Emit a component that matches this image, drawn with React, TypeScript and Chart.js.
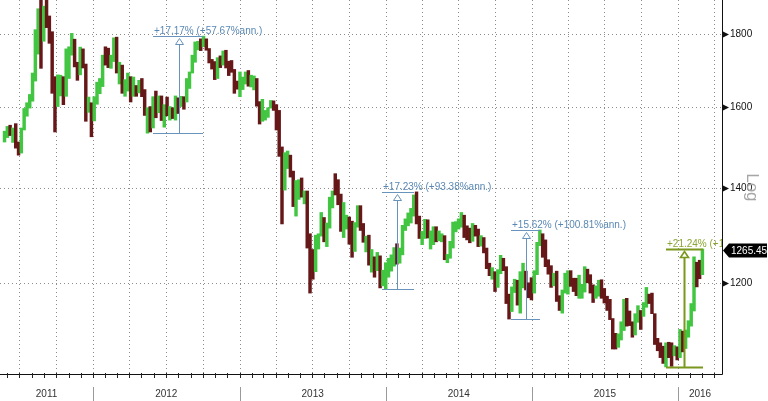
import React, { useEffect, useRef } from "react";
import { Chart, registerables } from "chart.js";

Chart.register(...registerables);

// ---- data (weekly bars, x = days since 2011-01-01, bar centred mid-week) ----
const firstBarDay = 144; // week ending 27 May 2011
const barStepDays = 7;

const highs = [
  // 2011
  1537, 1549, 1552, 1545, 1556, 1510, 1545, 1595, 1610, 1632, 1690, 1814, 1877, 1912, 1885, 1920,
  1855, 1808, 1680, 1685, 1684, 1680, 1758, 1764, 1803, 1786, 1720, 1763, 1758, 1715, 1625, 1610,
  // 2012
  1626, 1665, 1675, 1740, 1764, 1760, 1740, 1790, 1792, 1720, 1712, 1672, 1690, 1680, 1679, 1656,
  1670, 1675, 1645, 1597, 1600, 1626, 1641, 1628, 1628, 1605, 1625, 1600, 1597, 1628, 1623, 1627,
  1626, 1675, 1693, 1740, 1778, 1780, 1787, 1795, 1787, 1759, 1728, 1722, 1733, 1738, 1752, 1754,
  1723, 1725, 1700, 1668,
  // 2013
  1693, 1679, 1693, 1697, 1684, 1682, 1675, 1613, 1619, 1590, 1597, 1616, 1615, 1605, 1590, 1498,
  1484, 1488, 1478, 1440, 1418, 1420, 1424, 1394, 1394, 1300, 1267, 1297, 1300, 1346, 1335, 1323,
  1380, 1394, 1434, 1420, 1387, 1368, 1340, 1336, 1327, 1324, 1361, 1361, 1322, 1295, 1297, 1267,
  1252, 1261, 1254, 1225,
  // 2014
  1240, 1249, 1256, 1271, 1279, 1270, 1318, 1332, 1345, 1355, 1385, 1392, 1338, 1305, 1331, 1330,
  1306, 1315, 1315, 1306, 1300, 1296, 1257, 1284, 1325, 1326, 1332, 1346, 1340, 1317, 1312, 1322,
  1318, 1310, 1296, 1292, 1270, 1239, 1230, 1222, 1226, 1255, 1249, 1232, 1178, 1192, 1207, 1205,
  1222, 1239, 1223, 1200,
  // 2015
  1210, 1224, 1282, 1308, 1300, 1287, 1246, 1234, 1219, 1223, 1175, 1186, 1219, 1224, 1224, 1209,
  1209, 1215, 1197, 1232, 1227, 1216, 1196, 1194, 1205, 1206, 1189, 1174, 1168, 1132, 1105, 1104,
  1126, 1168, 1170, 1146, 1126, 1141, 1156, 1147, 1162, 1191, 1178, 1180, 1141, 1096, 1088, 1082,
  1088, 1089, 1088, 1083,
  // 2016
  1081, 1112, 1109, 1111, 1128, 1160, 1252, 1241, 1245, 1268,
];

const lows = [
  // 2011
  1510, 1521, 1526, 1509, 1495, 1478, 1483, 1540, 1575, 1596, 1614, 1668, 1743, 1703, 1780, 1820,
  1774, 1635, 1535, 1600, 1628, 1605, 1627, 1675, 1740, 1707, 1670, 1685, 1704, 1562, 1585, 1523,
  // 2012
  1563, 1606, 1634, 1653, 1712, 1705, 1703, 1722, 1690, 1660, 1635, 1627, 1641, 1612, 1627, 1627,
  1636, 1626, 1577, 1532, 1535, 1545, 1571, 1584, 1564, 1547, 1576, 1565, 1569, 1565, 1582, 1600,
  1593, 1612, 1648, 1690, 1720, 1755, 1753, 1764, 1754, 1718, 1701, 1672, 1675, 1705, 1712, 1704,
  1683, 1692, 1635, 1646,
  // 2013
  1626, 1645, 1660, 1654, 1652, 1644, 1601, 1555, 1562, 1565, 1572, 1596, 1590, 1540, 1475, 1321,
  1396, 1446, 1426, 1359, 1338, 1375, 1380, 1365, 1270, 1180, 1207, 1222, 1268, 1295, 1283, 1273,
  1312, 1356, 1385, 1363, 1305, 1292, 1310, 1278, 1251, 1263, 1314, 1307, 1282, 1262, 1235, 1221,
  1211, 1224, 1190, 1194,
  // 2014
  1187, 1211, 1223, 1233, 1237, 1239, 1256, 1307, 1317, 1323, 1338, 1321, 1290, 1277, 1290, 1291,
  1268, 1277, 1283, 1285, 1283, 1246, 1240, 1249, 1270, 1304, 1310, 1314, 1292, 1287, 1281, 1284,
  1295, 1273, 1274, 1260, 1228, 1214, 1207, 1183, 1191, 1218, 1224, 1160, 1131, 1145, 1181, 1157,
  1142, 1190, 1186, 1171,
  // 2015
  1167, 1180, 1216, 1275, 1251, 1232, 1217, 1191, 1194, 1164, 1147, 1142, 1180, 1178, 1193, 1183,
  1175, 1170, 1170, 1182, 1200, 1180, 1162, 1170, 1174, 1170, 1161, 1147, 1130, 1077, 1077, 1080,
  1093, 1110, 1118, 1119, 1098, 1102, 1125, 1112, 1136, 1153, 1160, 1141, 1085, 1074, 1062, 1052,
  1046, 1062, 1047, 1065,
  // 2016
  1058, 1062, 1072, 1078, 1098, 1118, 1146, 1192, 1208, 1216,
];

const closes = [
  // 2011
  1536, 1542, 1530, 1539, 1501, 1486, 1542, 1592, 1601, 1628, 1660, 1744, 1852, 1829, 1880, 1856,
  1813, 1657, 1624, 1635, 1682, 1643, 1745, 1754, 1787, 1724, 1684, 1746, 1713, 1598, 1606, 1564,
  // 2012
  1617, 1640, 1664, 1730, 1725, 1723, 1725, 1776, 1710, 1711, 1656, 1662, 1669, 1631, 1659, 1642,
  1663, 1643, 1580, 1593, 1572, 1622, 1593, 1627, 1571, 1598, 1579, 1590, 1581, 1621, 1608, 1622,
  1616, 1671, 1690, 1738, 1770, 1776, 1771, 1780, 1757, 1723, 1712, 1676, 1730, 1714, 1751, 1712,
  1704, 1696, 1657, 1656,
  // 2013
  1656, 1662, 1687, 1657, 1667, 1667, 1609, 1573, 1573, 1576, 1592, 1608, 1596, 1581, 1477, 1395,
  1462, 1470, 1435, 1365, 1387, 1392, 1383, 1388, 1297, 1234, 1223, 1278, 1295, 1322, 1309, 1313,
  1376, 1396, 1395, 1386, 1308, 1326, 1338, 1310, 1272, 1315, 1352, 1315, 1287, 1288, 1244, 1251,
  1232, 1235, 1203, 1213,
  // 2014
  1237, 1247, 1252, 1264, 1240, 1263, 1318, 1323, 1326, 1339, 1379, 1335, 1294, 1303, 1318, 1294,
  1301, 1301, 1290, 1293, 1293, 1250, 1253, 1274, 1316, 1316, 1320, 1337, 1310, 1307, 1294, 1311,
  1305, 1280, 1287, 1268, 1230, 1216, 1217, 1192, 1222, 1238, 1231, 1172, 1169, 1186, 1200, 1176,
  1192, 1222, 1196, 1195,
  // 2015
  1189, 1223, 1277, 1293, 1283, 1234, 1228, 1204, 1213, 1167, 1153, 1183, 1199, 1219, 1207, 1203,
  1178, 1179, 1189, 1225, 1205, 1190, 1172, 1180, 1201, 1173, 1168, 1157, 1133, 1098, 1094, 1094,
  1113, 1160, 1134, 1121, 1103, 1138, 1145, 1137, 1156, 1177, 1163, 1142, 1088, 1081, 1077, 1057,
  1085, 1075, 1066, 1076,
  // 2016
  1061, 1098, 1089, 1097, 1118, 1158, 1239, 1230, 1222, 1265,
];

const yTicks = [1200, 1400, 1600, 1800];
const yearLabels = ["2011", "2012", "2013", "2014", "2015", "2016"];
const lastPrice = 1265.45;

// annotations: start/end/arrow day, low and high price, text
const annStartDays = [515, 1087, 1408, 1796];
const annEndDays = [640, 1167, 1481, 1889];
const annArrowDays = [580, 1124, 1446, 1841];
const annLows = [1532, 1187, 1131, 1046];
const annHighs = [1795, 1392, 1308, 1268];
const annTexts = [
  "+17.17% (+57.67%ann.)",
  "+17.23% (+93.38%ann.)",
  "+15.62% (+100.81%ann.)",
  "+21.24% (+116.53%ann.)",
];

// ---- axis bounds ----
const X_MIN = 132.7;
const X_MAX = 1935.9;
const Y_MIN = 1034;
const Y_MAX = 1904;

const UP = "#42c642";
const DOWN = "#661818";
const GRID = "#8c8c8c";
const BLUE_LINE = "#6893bd";
const BLUE_TEXT = "#5a88b4";
const GREEN_LINE = "#7a981c";
const GREEN_TEXT = "#8ba632";
const FONT = "'Liberation Sans', Arial, sans-serif";

const dayOf = (year: number, month: number) =>
  (Date.UTC(year, month, 1) - Date.UTC(2011, 0, 1)) / 86400000;

const decorPlugin = {
  id: "decor",
  beforeDatasetsDraw(chart: any) {
    const { ctx, chartArea: a, scales } = chart;
    const x = scales.x;
    const y = scales.y;
    ctx.save();
    ctx.strokeStyle = GRID;
    ctx.lineWidth = 1;
    ctx.setLineDash([1, 3]);
    for (const v of yTicks) {
      const py = Math.round(y.getPixelForValue(v)) + 0.5;
      ctx.beginPath();
      ctx.moveTo(a.left, py);
      ctx.lineTo(a.right, py);
      ctx.stroke();
    }
    for (let yr = 2011; yr <= 2016; yr++) {
      for (let m = 0; m < 12; m += 3) {
        const d = dayOf(yr, m);
        if (d <= X_MIN || d >= X_MAX) continue;
        const px = Math.round(x.getPixelForValue(d)) + 0.5;
        ctx.beginPath();
        ctx.moveTo(px, a.top);
        ctx.lineTo(px, a.bottom);
        ctx.stroke();
      }
    }
    ctx.restore();
  },
  afterDatasetsDraw(chart: any) {
    const { ctx, chartArea: a, scales } = chart;
    const x = scales.x;
    const y = scales.y;
    const W = chart.width;
    const H = chart.height;

    ctx.save();
    // annotations (clipped to plot)
    ctx.save();
    ctx.beginPath();
    ctx.rect(a.left, a.top, a.right - a.left, a.bottom - a.top);
    ctx.clip();
    annTexts.forEach((txt, i) => {
      const green = i === annTexts.length - 1;
      const lc = green ? GREEN_LINE : BLUE_LINE;
      const tc = green ? GREEN_TEXT : BLUE_TEXT;
      const x0 = Math.round(x.getPixelForValue(annStartDays[i]));
      const x1 = Math.round(x.getPixelForValue(annEndDays[i]));
      const xm = Math.round(x.getPixelForValue(annArrowDays[i])) + 0.5;
      const yl = Math.round(y.getPixelForValue(annLows[i])) + 0.5;
      const yh = Math.round(y.getPixelForValue(annHighs[i])) + 0.5;
      ctx.strokeStyle = lc;
      ctx.lineWidth = green ? 2 : 1;
      ctx.beginPath();
      ctx.moveTo(x0, yl);
      ctx.lineTo(x1, yl);
      ctx.moveTo(x0, yh);
      ctx.lineTo(x1, yh);
      ctx.moveTo(xm, yl);
      ctx.lineTo(xm, yh + 8);
      ctx.stroke();
      // hollow arrow head
      ctx.lineWidth = 1;
      ctx.beginPath();
      ctx.moveTo(xm, yh + 2);
      ctx.lineTo(xm - 4, yh + 8);
      ctx.lineTo(xm + 4, yh + 8);
      ctx.closePath();
      ctx.fillStyle = "#ffffff";
      ctx.fill();
      ctx.lineWidth = green ? 1.6 : 1;
      ctx.stroke();
      ctx.fillStyle = tc;
      ctx.font = `10px ${FONT}`;
      ctx.textAlign = "left";
      ctx.textBaseline = "alphabetic";
      ctx.fillText(txt, x0 + 1, yh - 2.5);
    });
    ctx.restore();

    // axis lines
    ctx.strokeStyle = "#111";
    ctx.lineWidth = 1;
    ctx.setLineDash([]);
    const bx = a.right + 0.5;
    const by = a.bottom + 0.5;
    ctx.beginPath();
    ctx.moveTo(a.left, by);
    ctx.lineTo(bx, by);
    ctx.moveTo(bx, a.top);
    ctx.lineTo(bx, by);
    ctx.stroke();

    // monthly ticks
    ctx.strokeStyle = "#222";
    for (let yr = 2011; yr <= 2016; yr++) {
      for (let m = 0; m < 12; m++) {
        const d = dayOf(yr, m);
        if (d <= X_MIN || d >= X_MAX) continue;
        const px = Math.round(x.getPixelForValue(d)) + 0.5;
        ctx.beginPath();
        ctx.moveTo(px, a.bottom - 1);
        ctx.lineTo(px, a.bottom + 4);
        ctx.stroke();
      }
    }

    // year separators and labels
    ctx.font = `10px ${FONT}`;
    ctx.fillStyle = "#333";
    ctx.textAlign = "center";
    ctx.textBaseline = "middle";
    yearLabels.forEach((lab, i) => {
      const yr = 2011 + i;
      const s = Math.max(dayOf(yr, 0), X_MIN);
      const e = Math.min(dayOf(yr + 1, 0), X_MAX);
      const ps = x.getPixelForValue(s);
      const pe = x.getPixelForValue(e);
      ctx.fillText(lab, (ps + pe) / 2, a.bottom + 20);
      if (dayOf(yr, 0) > X_MIN) {
        const px = Math.round(ps) + 0.5;
        ctx.strokeStyle = "#9a9a9a";
        ctx.beginPath();
        ctx.moveTo(px, a.bottom + 13);
        ctx.lineTo(px, H);
        ctx.stroke();
      }
    });

    // right axis ticks and labels
    ctx.textAlign = "left";
    ctx.fillStyle = "#111";
    yTicks.forEach((v) => {
      const py = Math.round(y.getPixelForValue(v)) + 0.5;
      ctx.beginPath();
      ctx.moveTo(a.right + 1, py - 3);
      ctx.lineTo(a.right + 7, py);
      ctx.lineTo(a.right + 1, py + 3);
      ctx.closePath();
      ctx.fill();
      ctx.fillText(String(v), a.right + 8, py);
    });

    // "Log" label
    ctx.save();
    ctx.translate(a.right + 30, y.getPixelForValue(1400) - 1);
    ctx.rotate(Math.PI / 2);
    ctx.font = `17px ${FONT}`;
    ctx.fillStyle = "#a6a6a6";
    ctx.textAlign = "center";
    ctx.textBaseline = "middle";
    ctx.fillText("Log", 0, 0);
    ctx.restore();

    // last price box
    const ly = Math.round(y.getPixelForValue(lastPrice)) + 0.5;
    ctx.fillStyle = "#000";
    ctx.beginPath();
    ctx.moveTo(a.right + 1, ly);
    ctx.lineTo(a.right + 7, ly - 7);
    ctx.lineTo(W - 1, ly - 7);
    ctx.lineTo(W - 1, ly + 7);
    ctx.lineTo(a.right + 7, ly + 7);
    ctx.closePath();
    ctx.fill();
    ctx.fillStyle = "#fff";
    ctx.font = `10px ${FONT}`;
    ctx.textAlign = "left";
    ctx.textBaseline = "middle";
    ctx.fillText(lastPrice.toFixed(2), a.right + 9, ly + 0.5);

    ctx.restore();
  },
};

export default function App() {
  const ref = useRef<HTMLCanvasElement>(null);
  useEffect(() => {
    const canvas = ref.current;
    if (!canvas) return;
    const barData = highs.map((h, i) => ({
      x: firstBarDay + barStepDays * i,
      y: [lows[i], h],
    }));
    const colors = closes.map((c, i) => (i === 0 || c >= closes[i - 1] ? UP : DOWN));
    const chart = new Chart(canvas, {
      type: "bar",
      data: {
        datasets: [
          {
            data: barData as any,
            backgroundColor: colors,
            borderWidth: 0,
            barThickness: 2.8,
            grouped: false,
          } as any,
        ],
      },
      options: {
        animation: false,
        responsive: false,
        maintainAspectRatio: false,
        layout: { padding: 0 },
        events: [],
        plugins: { legend: { display: false }, tooltip: { enabled: false } },
        scales: {
          x: {
            type: "linear",
            offset: false,
            min: X_MIN,
            max: X_MAX,
            grid: { display: false, offset: false },
            border: { display: false },
            ticks: { display: false },
            afterFit: (s: any) => {
              s.height = 27;
            },
          },
          y: {
            type: "logarithmic",
            position: "right",
            min: Y_MIN,
            max: Y_MAX,
            grid: { display: false },
            border: { display: false },
            ticks: { display: false },
            afterFit: (s: any) => {
              s.width = 46;
            },
          },
        },
      } as any,
      plugins: [decorPlugin],
    });
    return () => chart.destroy();
  }, []);
  return (
    <canvas
      ref={ref}
      width={768}
      height={401}
      style={{ position: "fixed", left: 0, top: 0, display: "block", background: "#fff" }}
    />
  );
}
